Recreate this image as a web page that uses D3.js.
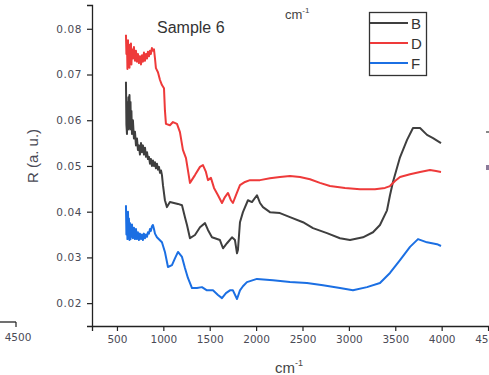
<!DOCTYPE html>
<html>
<head>
<meta charset="utf-8">
<script src="https://cdn.jsdelivr.net/npm/d3@7"></script>
<style>
  html, body { margin: 0; padding: 0; background: #fff; }
  svg { display: block; font-family: "Liberation Sans", Arial, sans-serif; }
</style>
</head>
<body>
<svg id="chart" width="489" height="375"></svg>
<script>
// ---- data (wavenumber cm^-1, reflectance a.u.) ----
const seriesNames = ["B", "D", "F"];
const seriesColors = ["#3f3f3f", "#ee3a3a", "#1b6fe3"];

const waveB = [597,602,608,613,619,624,629,635,640,646,651,656,662,672,683,694,705,716,726,737,748,759,770,780,791,802,813,824,834,845,856,866,877,888,899,910,920,931,942,953,964,975,985,996,1017,1039,1071,1114,1158,1201,1233,1255,1287,1341,1395,1449,1481,1524,1556,1610,1643,1686,1740,1772,1794,1804,1826,1858,1912,1955,2009,2042,2074,2149,2257,2365,2505,2613,2764,2904,3012,3152,3260,3335,3411,3443,3475,3551,3627,3691,3767,3842,3907,3993];
const valB  = [0.0684,0.0590,0.0570,0.0640,0.0600,0.0650,0.0580,0.0655,0.0610,0.0640,0.0580,0.0620,0.0570,0.0600,0.0560,0.0575,0.0545,0.0560,0.0535,0.0545,0.0525,0.0550,0.0530,0.0545,0.0525,0.0540,0.0520,0.0530,0.0515,0.0520,0.0505,0.0515,0.0500,0.0512,0.0500,0.0508,0.0495,0.0505,0.0492,0.0498,0.0485,0.0490,0.0480,0.0458,0.0425,0.0410,0.0421,0.0419,0.0417,0.0414,0.0388,0.0371,0.0342,0.0349,0.0366,0.0375,0.0360,0.0344,0.0342,0.0338,0.0320,0.0331,0.0344,0.0338,0.0309,0.0316,0.0377,0.0399,0.0425,0.0421,0.0436,0.0419,0.0410,0.0399,0.0397,0.0388,0.0377,0.0364,0.0353,0.0342,0.0338,0.0344,0.0355,0.0371,0.0403,0.0436,0.0465,0.0519,0.0557,0.0583,0.0583,0.0568,0.0561,0.0550];

const waveD = [597,602,608,613,619,624,629,635,640,646,651,656,662,672,683,694,705,716,726,737,748,759,770,780,791,802,813,824,834,845,856,866,877,888,899,910,920,942,964,985,1007,1017,1028,1071,1104,1147,1179,1211,1244,1287,1341,1395,1427,1459,1481,1513,1546,1589,1632,1664,1697,1729,1750,1783,1826,1880,1934,2042,2149,2257,2365,2473,2581,2688,2796,2958,3120,3281,3389,3443,3497,3551,3659,3767,3874,3939,3993];
const valD  = [0.0787,0.0745,0.0770,0.0712,0.0775,0.0730,0.0760,0.0715,0.0765,0.0740,0.0768,0.0722,0.0755,0.0735,0.0760,0.0730,0.0752,0.0728,0.0745,0.0725,0.0740,0.0722,0.0742,0.0728,0.0748,0.0730,0.0745,0.0735,0.0750,0.0740,0.0752,0.0745,0.0758,0.0752,0.0755,0.0735,0.0714,0.0705,0.0688,0.0677,0.0670,0.0622,0.0592,0.0589,0.0596,0.0592,0.0574,0.0535,0.0517,0.0463,0.0480,0.0498,0.0502,0.0487,0.0469,0.0474,0.0452,0.0436,0.0419,0.0432,0.0441,0.0425,0.0419,0.0436,0.0458,0.0465,0.0469,0.0469,0.0473,0.0476,0.0478,0.0476,0.0471,0.0463,0.0456,0.0452,0.0449,0.0449,0.0452,0.0456,0.0467,0.0476,0.0482,0.0487,0.0491,0.0489,0.0487];

const waveF = [597,602,608,613,619,624,629,635,640,646,651,656,662,672,683,694,705,716,726,737,748,759,770,780,791,802,813,824,834,845,856,866,877,888,899,910,931,985,1017,1050,1093,1125,1158,1201,1233,1265,1309,1362,1416,1470,1535,1589,1632,1675,1718,1750,1794,1826,1858,1901,2009,2182,2365,2548,2721,2904,3044,3195,3335,3443,3551,3659,3745,3842,3950,3993];
const valF  = [0.0414,0.0350,0.0395,0.0340,0.0400,0.0345,0.0385,0.0338,0.0375,0.0340,0.0370,0.0345,0.0372,0.0342,0.0365,0.0340,0.0362,0.0340,0.0355,0.0338,0.0352,0.0340,0.0350,0.0338,0.0352,0.0342,0.0350,0.0345,0.0355,0.0352,0.0362,0.0358,0.0368,0.0371,0.0362,0.0352,0.0344,0.0333,0.0312,0.0279,0.0283,0.0298,0.0312,0.0301,0.0277,0.0255,0.0233,0.0233,0.0235,0.0228,0.0228,0.0218,0.0211,0.0222,0.0228,0.0228,0.0209,0.0228,0.0237,0.0246,0.0253,0.0250,0.0246,0.0244,0.0239,0.0233,0.0228,0.0235,0.0244,0.0266,0.0294,0.0323,0.0340,0.0333,0.0329,0.0325];

const xMajorTicks = [500,1000,1500,2000,2500,3000,3500,4000,4500];
const yMajorTicks = [0.02,0.03,0.04,0.05,0.06,0.07,0.08];

const xDomain = [231, 4700];
const yDomain = [0.015, 0.0852];

// ---- layout ----
const svg = d3.select("#chart");
const mLeft = 92, mBottom = 326, mTop = 5;
const pxPerUnit = (441.7 - 117) / 3500;

const x = d3.scaleLinear().domain(xDomain).range([mLeft, mLeft + (xDomain[1] - xDomain[0]) * pxPerUnit]);
const y = d3.scaleLinear().domain(yDomain).range([mBottom, mTop]);

const axisColor = "#222";
const labelColor = "#4a4a55";
const tickFont = "DejaVu Sans, Liberation Sans, Arial";

// minor ticks
const xMinor = d3.range(250, 4751, 250).filter(v => v % 500 !== 0);
const yMinor = d3.range(0.015, 0.0851, 0.005).map(v => +v.toFixed(3)).filter(v => Math.round(v * 1000) % 10 !== 0);

const gx = svg.append("g").attr("transform", `translate(0,${mBottom})`);
gx.call(d3.axisBottom(x).tickValues(xMinor).tickSize(3).tickFormat(""));
gx.call(d3.axisBottom(x).tickValues(xMajorTicks).tickSize(5).tickPadding(5).tickFormat(d3.format("d")));
gx.selectAll(".domain").attr("stroke", axisColor).attr("stroke-width", 1.3);
gx.selectAll("line").attr("stroke", axisColor).attr("stroke-width", 1.2);
gx.selectAll("text").attr("fill", labelColor).attr("font-size", 10.5).attr("font-family", tickFont);

const gy = svg.append("g").attr("transform", `translate(${mLeft},0)`);
gy.call(d3.axisLeft(y).tickValues(yMinor).tickSize(3).tickFormat(""));
gy.call(d3.axisLeft(y).tickValues(yMajorTicks).tickSize(5).tickPadding(5).tickFormat(d3.format(".2f")));
gy.selectAll(".domain").attr("stroke", axisColor).attr("stroke-width", 1.3);
gy.selectAll("line").attr("stroke", axisColor).attr("stroke-width", 1.2);
gy.selectAll("text").attr("fill", labelColor).attr("font-size", 10.5).attr("font-family", tickFont).attr("letter-spacing", 0.6);

// series
const series = [
  { name: seriesNames[0], color: seriesColors[0], w: waveB, v: valB },
  { name: seriesNames[1], color: seriesColors[1], w: waveD, v: valD },
  { name: seriesNames[2], color: seriesColors[2], w: waveF, v: valF }
];
const line = d3.line().x(d => x(d[0])).y(d => y(d[1]));
series.forEach(s => {
  svg.append("path")
    .datum(s.w.map((w, i) => [w, s.v[i]]))
    .attr("fill", "none")
    .attr("stroke", s.color)
    .attr("stroke-width", 2)
    .attr("stroke-linejoin", "round")
    .attr("d", line);
});

// texts
svg.append("text").attr("x", 157).attr("y", 33).attr("font-size", 16).attr("fill", "#333").text("Sample 6");

const topUnit = svg.append("text").attr("x", 285).attr("y", 19).attr("font-size", 13).attr("fill", "#444");
topUnit.append("tspan").text("cm");
topUnit.append("tspan").attr("dy", -6).attr("font-size", 8).text("-1");

const botUnit = svg.append("text").attr("x", 275).attr("y", 373).attr("font-size", 15).attr("fill", "#444");
botUnit.append("tspan").text("cm");
botUnit.append("tspan").attr("dy", -7).attr("font-size", 9).text("-1");

svg.append("text")
  .attr("transform", "translate(38,156) rotate(-90)")
  .attr("text-anchor", "middle").attr("font-size", 15).attr("fill", "#4a4a55")
  .text("R (a. u.)");

// legend
const lg = svg.append("g");
lg.append("rect").attr("x", 369.5).attr("y", 12.5).attr("width", 57).attr("height", 63)
  .attr("fill", "#fff").attr("stroke", "#333").attr("stroke-width", 1.3);
series.forEach((s, i) => {
  const ly = 23 + i * 20;
  lg.append("line").attr("x1", 370).attr("x2", 408).attr("y1", ly).attr("y2", ly)
    .attr("stroke", s.color).attr("stroke-width", 2.2);
  lg.append("text").attr("x", 411).attr("y", ly + 5.5).attr("font-size", 15).attr("fill", "#333").text(s.name);
});

// fragment of neighbouring panel (left)
svg.append("line").attr("x1", 0).attr("x2", 16).attr("y1", 322).attr("y2", 322).attr("stroke", axisColor).attr("stroke-width", 1.3);
svg.append("line").attr("x1", 16).attr("x2", 16).attr("y1", 322).attr("y2", 327).attr("stroke", axisColor).attr("stroke-width", 1.2);
svg.append("text").attr("x", 18).attr("y", 341).attr("text-anchor", "middle").attr("font-size", 10.5).attr("font-family", tickFont).attr("fill", labelColor).text("4500");
// fragments at right edge
svg.append("rect").attr("x", 486).attr("y", 131).attr("width", 3).attr("height", 2).attr("fill", "#888");
svg.append("rect").attr("x", 486).attr("y", 165).attr("width", 3).attr("height", 5).attr("fill", "#8a7a9a");
</script>
</body>
</html>
